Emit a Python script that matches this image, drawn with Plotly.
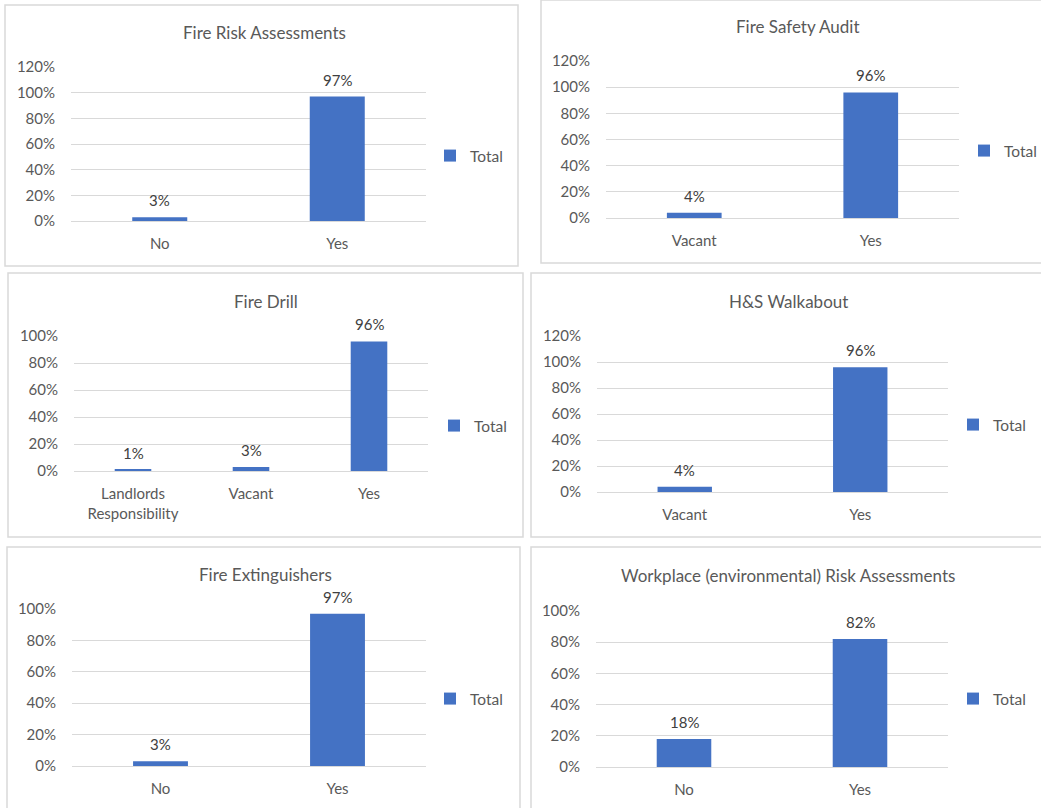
import plotly.graph_objects as go

W, H = 1041, 808

# ---------------- data ----------------
titles = ["Fire Risk Assessments", "Fire Safety Audit", "Fire Drill",
          "H&S Walkabout", "Fire Extinguishers",
          "Workplace (environmental) Risk Assessments"]
cats_fra = ["No", "Yes"]
vals_fra = [0.03, 0.97]
cats_fsa = ["Vacant", "Yes"]
vals_fsa = [0.04, 0.96]
cats_fd = ["Landlords<br>Responsibility", "Vacant", "Yes"]
vals_fd = [0.01, 0.03, 0.96]
cats_hsw = ["Vacant", "Yes"]
vals_hsw = [0.04, 0.96]
cats_fe = ["No", "Yes"]
vals_fe = [0.03, 0.97]
cats_wra = ["No", "Yes"]
vals_wra = [0.18, 0.82]
series_name = "Total"
y_max = [1.2, 1.2, 1.0, 1.2, 1.0, 1.0]

all_cats = [cats_fra, cats_fsa, cats_fd, cats_hsw, cats_fe, cats_wra]
all_vals = [vals_fra, vals_fsa, vals_fd, vals_hsw, vals_fe, vals_wra]

# ---------------- layout (pixels) ----------------
plot_x = [(71, 426), (606, 959), (74, 428), (597, 948), (72, 426), (596, 948)]
plot_y = [(67, 221), (61, 218), (336, 471), (336, 492), (609, 766), (611, 767)]
borders = [(5, 5, 518, 266), (541, 0, 1046, 263), (8, 273, 523, 537),
           (531, 273, 1046, 537), (7, 547, 520, 813), (531, 547, 1046, 813)]
title_pos = [(264, 32), (798, 26), (266, 301), (788, 301), (265, 574), (788, 575)]
legend_text_x = [468, 1002, 472, 991, 468, 991]
legend_y = [156, 151, 426, 425, 699, 699]


def px(x):
    return x / W


def py(y):
    return 1 - y / H


BLUE = "#4472C4"
GRID = "#D9D9D9"
TXT = "#595959"
LBL = "#404040"
FONT = "Lato, 'Open Sans', sans-serif"

fig = go.Figure()
annotations = []
shapes = []
layout = {}

for i in range(6):
    n = "" if i == 0 else str(i + 1)
    leg = "legend" if i == 0 else f"legend{i + 1}"
    fig.add_trace(go.Bar(
        x=all_cats[i], y=all_vals[i], name=series_name,
        marker=dict(color=BLUE, line=dict(width=0)),
        width=0.31, xaxis=f"x{n}", yaxis=f"y{n}", legend=leg,
        showlegend=True, hoverinfo="x+y",
    ))
    x0, x1 = plot_x[i]
    y0, y1 = plot_y[i]
    layout[f"xaxis{n}"] = dict(
        domain=[px(x0), px(x1)], anchor=f"y{n}", type="category",
        showgrid=False, showline=False, zeroline=False, ticks="",
        tickfont=dict(size=15, color=TXT, family=FONT),
        ticklabelstandoff=12, fixedrange=True, automargin=False,
    )
    layout[f"yaxis{n}"] = dict(
        domain=[py(y1), py(y0)], anchor=f"x{n}",
        range=[0, y_max[i]], dtick=0.2, tickformat=".0%",
        showgrid=True, gridcolor=GRID, gridwidth=1,
        zeroline=True, zerolinecolor=GRID, zerolinewidth=1,
        showline=False, ticks="",
        tickfont=dict(size=15, color=TXT, family=FONT),
        ticklabelstandoff=15, fixedrange=True, automargin=False,
    )
    # data labels
    for c, v in zip(all_cats[i], all_vals[i]):
        annotations.append(dict(
            x=c, y=v, xref=f"x{n}", yref=f"y{n}", text=f"{v:.0%}",
            showarrow=False, yanchor="middle", yshift=17,
            font=dict(size=15, color=LBL, family=FONT),
        ))
    # title
    tx, ty = title_pos[i]
    annotations.append(dict(
        x=px(tx), y=py(ty), xref="paper", yref="paper",
        text=titles[i], showarrow=False, xanchor="center", yanchor="middle",
        font=dict(size=17, color=TXT, family=FONT),
    ))
    # border
    bx0, by0, bx1, by1 = borders[i]
    shapes.append(dict(
        type="rect", xref="paper", yref="paper",
        x0=px(bx0), x1=px(bx1), y0=py(by1), y1=py(by0),
        line=dict(color=GRID, width=1.5), fillcolor="rgba(0,0,0,0)", layer="below",
    ))
    layout[leg] = dict(
        x=px(legend_text_x[i] - 38), y=py(legend_y[i]),
        xanchor="left", yanchor="middle",
        bgcolor="rgba(0,0,0,0)", borderwidth=0, itemwidth=30,
        font=dict(size=15.5, color=TXT, family=FONT),
        itemclick=False, itemdoubleclick=False,
    )

fig.update_layout(
    template="none",
    width=W, height=H, autosize=False,
    margin=dict(l=0, r=0, t=0, b=0, pad=0, autoexpand=False),
    paper_bgcolor="white", plot_bgcolor="white",
    annotations=annotations, shapes=shapes,
    font=dict(family=FONT, color=TXT),
    **layout,
)

fig.write_html(
    "out.html",
    config={"displayModeBar": False},
    post_script="document.body.style.margin='0';document.body.style.overflow='hidden';",
)
